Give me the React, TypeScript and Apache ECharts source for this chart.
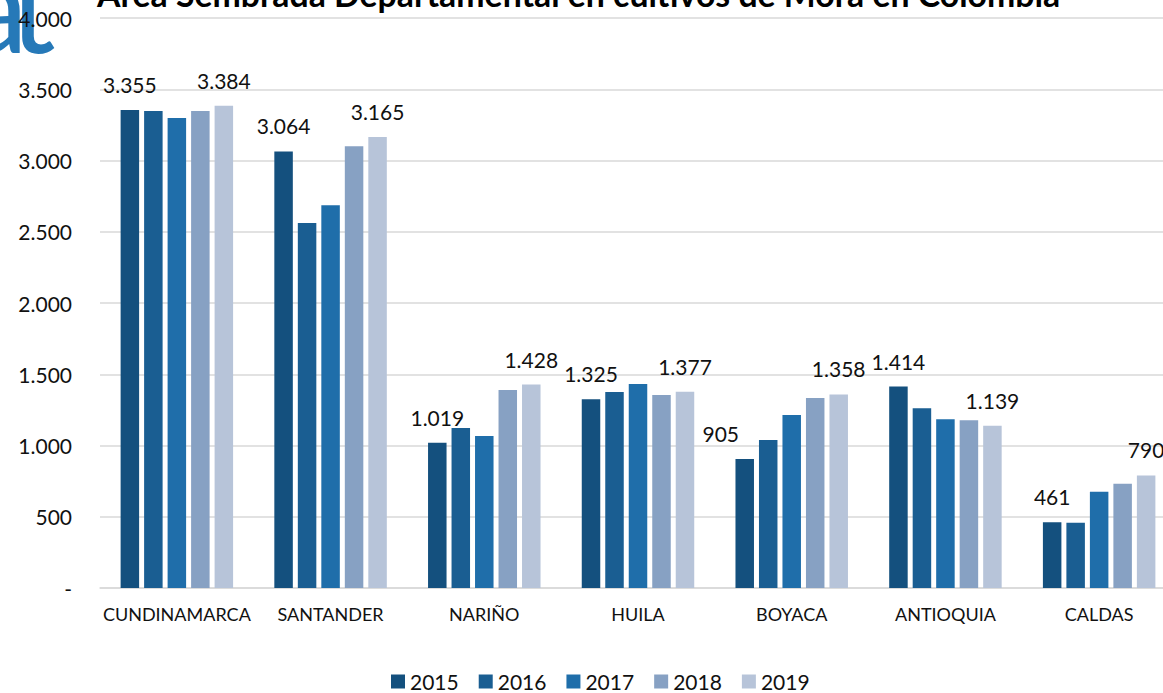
import React, { useEffect, useRef } from "react";
import * as echarts from "echarts";

const categories = ["CUNDINAMARCA", "SANTANDER", "NARIÑO", "HUILA", "BOYACA", "ANTIOQUIA", "CALDAS"];
const years = ["2015", "2016", "2017", "2018", "2019"];
const v2015 = [3355, 3064, 1019, 1325, 905, 1414, 461];
const v2016 = [3347, 2561, 1123, 1375, 1039, 1261, 458];
const v2017 = [3298, 2686, 1067, 1431, 1214, 1184, 676];
const v2018 = [3347, 3100, 1389, 1354, 1333, 1177, 732];
const v2019 = [3384, 3165, 1428, 1377, 1358, 1139, 790];
const colors = ["#14507E", "#1A5E92", "#1F6EAA", "#87A1C3", "#B7C4D9"];
const titleText = "Área Sembrada Departamental en cultivos de Mora en Colombia";

const FONT = "Lato";

function fmt(v: number): string {
  if (v === 0) return "-";
  const s = Math.round(v).toString();
  return s.replace(/\B(?=(\d{3})+(?!\d))/g, ".");
}

export default function App() {
  const ref = useRef<HTMLDivElement>(null);
  useEffect(() => {
    if (!ref.current) return;
    const chart = echarts.init(ref.current, null, { renderer: "svg" });
    const all = [v2015, v2016, v2017, v2018, v2019];
    const labelCfg = {
      show: true,
      position: "top",
      distance: 15,
      fontFamily: FONT,
      fontSize: 21,
      color: "#111",
      formatter: (p: any) => fmt(p.value),
    };
    const series = all.map((vals, i) => ({
      name: years[i],
      type: "bar",
      barWidth: 18.5,
      barGap: "27%",
      itemStyle: { color: colors[i] },
      label: i === 0 || i === 4 ? labelCfg : { show: false },
      data: vals.map((v, j) =>
        i === 0 && j === 4 ? { value: v, label: { offset: [-24, 0] } } : v
      ),
    }));
    chart.setOption({
      animation: false,
      textStyle: { fontFamily: FONT },
      grid: { left: 100, right: 4, top: 18, bottom: 105 },
      xAxis: {
        type: "category",
        data: categories,
        axisTick: { show: false },
        axisLine: { lineStyle: { color: "#d9d9d9", width: 1.5 } },
        axisLabel: { interval: 0, fontFamily: FONT, fontSize: 18, color: "#111", margin: 17 },
      },
      yAxis: {
        type: "value",
        min: 0,
        max: 4000,
        interval: 500,
        axisLine: { show: false },
        axisTick: { show: false },
        splitLine: { lineStyle: { color: "#d9d9d9", width: 1.5 } },
        axisLabel: {
          fontFamily: FONT,
          fontSize: 21,
          color: "#111",
          margin: 28,
          formatter: (v: number) => fmt(v),
        },
      },
      legend: {
        data: years,
        left: 386,
        top: 666,
        icon: "rect",
        itemWidth: 14,
        itemHeight: 14,
        itemGap: 20,
        textStyle: { fontFamily: FONT, fontSize: 21, color: "#111" },
      },
      graphic: [
        {
          type: "text",
          left: 97,
          top: -23,
          style: {
            text: titleText,
            fontFamily: FONT,
            fontWeight: "bold",
            fontSize: 33.8,
            fill: "#000",
          },
        },
        {
          type: "text",
          x: 28,
          y: 68,
          style: {
            text: "a",
            fontFamily: FONT,
            fontWeight: "normal",
            fontSize: 130,
            fill: "#2679B8",
            align: "right",
            verticalAlign: "bottom",
          },
        },
        {
          type: "text",
          x: 9,
          y: 68,
          style: {
            text: "t",
            fontFamily: FONT,
            fontWeight: "normal",
            fontSize: 130,
            fill: "#2679B8",
            align: "left",
            verticalAlign: "bottom",
          },
        },
      ],
      series,
    });
    return () => chart.dispose();
  }, []);
  return (
    <div style={{ position: "fixed", left: 0, top: 0, width: 1163, height: 693, overflow: "hidden", background: "#fff" }}>
      <div ref={ref} style={{ width: 1180, height: 693 }} />
    </div>
  );
}
